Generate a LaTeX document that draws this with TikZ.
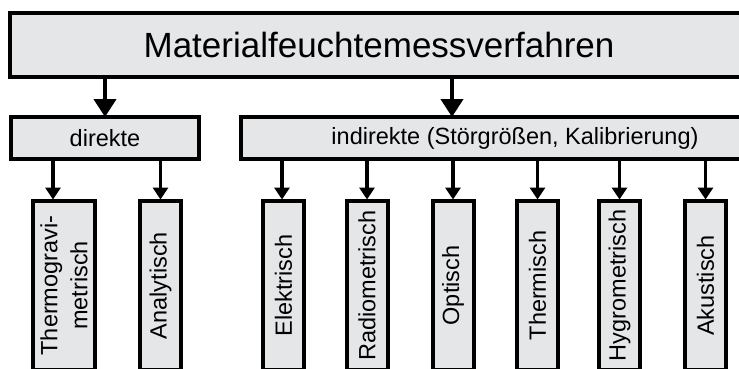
\documentclass[tikz,border=0pt]{standalone}
\usepackage{fontspec}
\setmainfont{Liberation Sans}
\usetikzlibrary{arrows.meta}
\definecolor{boxgray}{RGB}{229,230,232}
\begin{document}
\begin{tikzpicture}[x=1pt,y=-1pt,
  box/.style={draw=black,line width=4pt,fill=boxgray,inner sep=0pt,outer sep=0pt},
  small/.style={font=\fontsize{23.5}{30}\selectfont},
  leaf/.style={box,small,rotate=90,minimum width=169pt,minimum height=41pt,align=center},
  bigarr/.style={line width=4.2pt,-{Triangle[width=22pt,length=18pt]}},
  smallarr/.style={line width=3.2pt,shorten >=1.5pt,-{Triangle[width=15pt,length=12pt]}}]
\useasboundingbox (0,0) rectangle (739,368);

\node[box,minimum width=738pt,minimum height=64pt,font=\fontsize{35}{40}\selectfont] (top) at (379,45) {Materialfeuchtemessverfahren};
\node[box,small,minimum width=188pt,minimum height=42pt] (dir) at (105,138) {direkte};
\node[box,small,minimum width=548pt,minimum height=42pt] (ind) at (515,138) {indirekte (Störgrößen, Kalibrierung)};

\node[leaf,minimum height=62pt] (thermo) at (64,285.5) {Thermogravi-\\metrisch};
\node[leaf] (analyt) at (160.5,285.5) {Analytisch};
\node[leaf] (elek) at (283.5,285.5) {Elektrisch};
\node[leaf] (radio) at (367,285.5) {Radiometrisch};
\node[leaf] (opt) at (453,285.5) {Optisch};
\node[leaf] (therm) at (537.5,285.5) {Thermisch};
\node[leaf] (hygro) at (619.5,285.5) {Hygrometrisch};
\node[leaf] (akust) at (705.5,285.5) {Akustisch};

\coordinate (indin) at ([xshift=-63pt]ind.north);
\coordinate (thin) at ([xshift=-11pt]thermo.east);
\coordinate (elin) at ([xshift=-1.5pt]elek.east);

\draw[bigarr] (top.south -| dir.north) -- (dir.north);
\draw[bigarr] (top.south -| indin) -- (indin);

\draw[smallarr] (dir.south -| thin) -- (thin);
\draw[smallarr] (dir.south -| analyt.east) -- (analyt.east);
\draw[smallarr] (ind.south -| elin) -- (elin);
\foreach \n in {radio,opt,therm,hygro,akust}
  \draw[smallarr] (ind.south -| \n.east) -- (\n.east);
\end{tikzpicture}
\end{document}
